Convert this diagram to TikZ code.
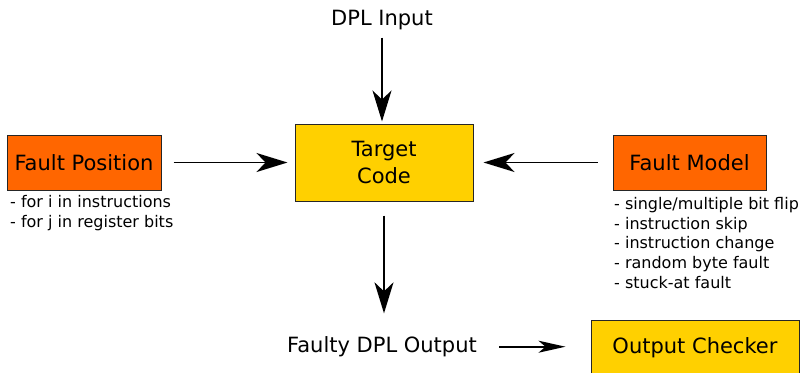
\documentclass[tikz,border=0pt]{standalone}
\usepackage{fontspec}
\setmainfont{DejaVu Sans}
\usetikzlibrary{arrows.meta}
\definecolor{faultorange}{HTML}{FF6600}
\definecolor{codegold}{HTML}{FFD000}
\tikzset{
  mainfont/.style={font=\fontsize{21}{27}\selectfont},
  listfont/.style={font=\fontsize{16}{19.7}\selectfont},
  block/.style={draw=black!85, line width=1pt, mainfont, inner sep=0pt, align=center},
  plain/.style={mainfont, inner sep=0pt},
  listtext/.style={listfont, inner sep=0pt, align=left, anchor=north west},
  flow/.style={line width=1.8pt, -{Stealth[length=31pt, width=19pt, inset=9pt]}},
  smallflow/.style={line width=1.6pt, -{Stealth[length=27pt, width=12pt, inset=7pt]}}
}
\begin{document}
\begin{tikzpicture}[x=1pt, y=-1pt]
  \useasboundingbox (0,0) rectangle (802,372);
  \clip (0,0) rectangle (802,372);

  % boxes
  \node[block, fill=faultorange, minimum width=154pt, minimum height=55pt] (fpos) at (84,162.5) {Fault Position};
  \node[block, fill=codegold, minimum width=178pt, minimum height=77pt] (target) at (384,162.5) {Target\\Code};
  \node[block, fill=faultorange, minimum width=153pt, minimum height=55pt] (fmodel) at (689.5,162.5) {Fault Model};
  \node[block, fill=codegold, minimum width=208pt, minimum height=56pt] (checker) at (695,348) {Output Checker};

  % free labels
  \node[plain, anchor=base] (dplin) at (382,25) {DPL Input};
  \node[plain, anchor=base] (faulty) at (382,352.5) {Faulty DPL Output};

  % option lists under the fault boxes
  \node[listtext] (poslist) at (10,195) {- for i in instructions\\- for j in register bits};
  \node[listtext] (modellist) at (614,197) {- single/multiple bit flip\\- instruction skip\\- instruction change\\- random byte fault\\- stuck-at fault};

  % connectors
  \draw[flow, shorten <=8pt, shorten >=2pt] (dplin.south) -- (dplin.south |- target.north);
  \draw[flow, shorten <=12pt, shorten >=7pt] (fpos.east) -- (target.west);
  \draw[flow, shorten <=15pt, shorten >=10pt] (fmodel.west) -- (target.east);
  \draw[flow, shorten <=14pt, shorten >=23pt] (target.south) -- (target.south |- faulty.north);
  \draw[smallflow, shorten <=22pt, shorten >=25pt] (faulty.east) -- (faulty.east -| checker.west);
\end{tikzpicture}
\end{document}
